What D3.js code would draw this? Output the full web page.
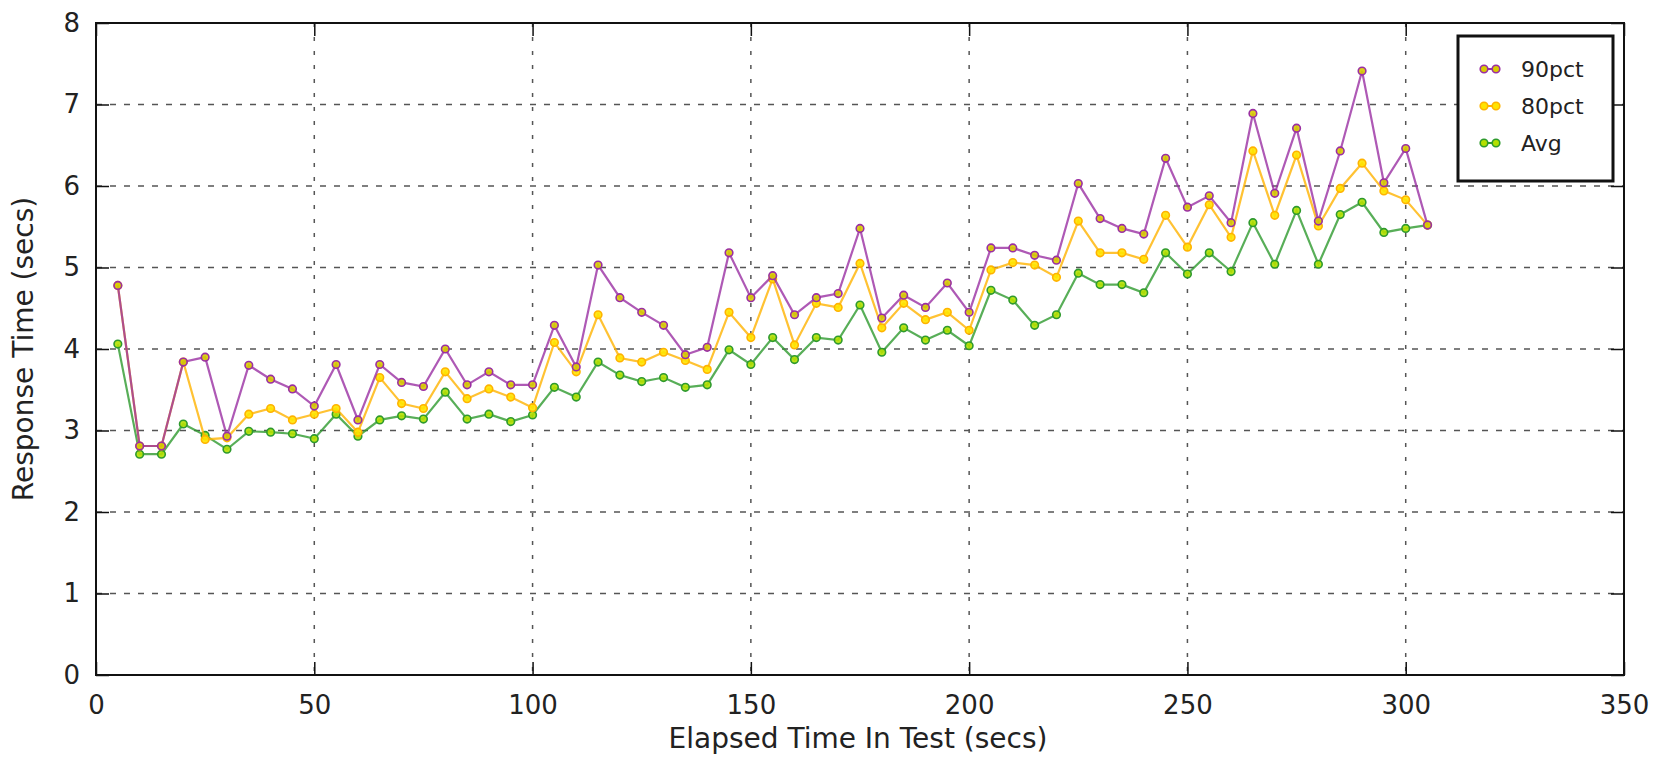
<!DOCTYPE html>
<html>
<head>
<meta charset="utf-8">
<script src="https://d3js.org/d3.v7.min.js"></script>
<style>
  body { margin: 0; background: #fff; }
  text { font-family: "DejaVu Sans", sans-serif; fill: #222; }
  .grid line { stroke: #555; stroke-width: 1.5; }
</style>
</head>
<body>
<svg width="1665" height="758"></svg>
<script>
// elapsed time (secs)
var times = [5, 10, 15, 20, 25, 30, 35, 40, 45, 50, 55, 60, 65, 70, 75, 80, 85, 90, 95, 100,
  105, 110, 115, 120, 125, 130, 135, 140, 145, 150, 155, 160, 165, 170, 175, 180, 185, 190, 195, 200,
  205, 210, 215, 220, 225, 230, 235, 240, 245, 250, 255, 260, 265, 270, 275, 280, 285, 290, 295, 300, 305];

var pct90 = [4.78, 2.81, 2.81, 3.84, 3.90, 2.93, 3.80, 3.63, 3.51, 3.30, 3.81, 3.13, 3.81, 3.59, 3.54, 4.00, 3.56, 3.72, 3.56, 3.56,
  4.29, 3.78, 5.03, 4.63, 4.45, 4.29, 3.93, 4.02, 5.18, 4.63, 4.90, 4.42, 4.63, 4.68, 5.48, 4.38, 4.66, 4.51, 4.81, 4.45,
  5.24, 5.24, 5.15, 5.09, 6.03, 5.60, 5.48, 5.41, 6.34, 5.74, 5.88, 5.55, 6.89, 5.91, 6.71, 5.57, 6.43, 7.41, 6.04, 6.46, 5.52];

var pct80 = [4.78, 2.81, 2.81, 3.84, 2.89, 2.91, 3.20, 3.27, 3.13, 3.20, 3.27, 2.98, 3.65, 3.33, 3.27, 3.72, 3.39, 3.51, 3.41, 3.28,
  4.08, 3.72, 4.42, 3.89, 3.84, 3.96, 3.86, 3.75, 4.45, 4.14, 4.86, 4.05, 4.56, 4.51, 5.05, 4.26, 4.56, 4.36, 4.45, 4.23,
  4.97, 5.06, 5.03, 4.88, 5.57, 5.18, 5.18, 5.10, 5.64, 5.25, 5.77, 5.37, 6.43, 5.64, 6.38, 5.51, 5.97, 6.28, 5.94, 5.83, 5.52];

var avg = [4.06, 2.71, 2.71, 3.08, 2.94, 2.77, 2.99, 2.98, 2.96, 2.90, 3.20, 2.93, 3.13, 3.18, 3.14, 3.47, 3.14, 3.20, 3.11, 3.19,
  3.53, 3.41, 3.84, 3.68, 3.60, 3.65, 3.53, 3.56, 3.99, 3.81, 4.14, 3.87, 4.14, 4.11, 4.54, 3.96, 4.26, 4.11, 4.23, 4.04,
  4.72, 4.60, 4.29, 4.42, 4.93, 4.79, 4.79, 4.69, 5.18, 4.92, 5.18, 4.95, 5.55, 5.04, 5.70, 5.04, 5.65, 5.80, 5.43, 5.48, 5.52];

var xTicks = [0, 50, 100, 150, 200, 250, 300, 350];
var yTicks = [0, 1, 2, 3, 4, 5, 6, 7, 8];

var seriesNames = ["90pct", "80pct", "Avg"];
var seriesData = [pct90, pct80, avg];
var lineColors = ["#9a2fa3", "#ffb300", "#2e9a2e"];
var markFill = ["#d8cc00", "#ffe400", "#b4e000"];

var svg = d3.select("svg"),
    margin = {top: 23, right: 41, bottom: 83, left: 96},
    width = +svg.attr("width") - margin.left - margin.right,
    height = +svg.attr("height") - margin.top - margin.bottom,
    g = svg.append("g").attr("transform", "translate(" + margin.left + "," + margin.top + ")");

var x = d3.scaleLinear().domain([0, 350]).range([0, width]);
var y = d3.scaleLinear().domain([0, 8]).range([height, 0]);

// grid lines
var grid = g.append("g").attr("class", "grid");
grid.selectAll(".gx")
  .data(xTicks.slice(1, -1))
  .enter().append("line")
    .attr("x1", function(d) { return x(d); })
    .attr("x2", function(d) { return x(d); })
    .attr("y1", 0).attr("y2", height)
    .attr("stroke-dasharray", "4,10");
grid.selectAll(".gy")
  .data(yTicks.slice(1, -1))
  .enter().append("line")
    .attr("y1", function(d) { return y(d); })
    .attr("y2", function(d) { return y(d); })
    .attr("x1", 0).attr("x2", width)
    .attr("stroke-dasharray", "6,8");

// axes, ticks inward on all four sides
function styleAxis(sel) {
  sel.select(".domain").remove();
  sel.selectAll(".tick line").attr("stroke", "#111").attr("stroke-width", 1.5);
  sel.selectAll(".tick text").style("font-size", "26px").attr("fill", "#222");
}

g.append("g")
    .attr("transform", "translate(0," + height + ")")
    .call(d3.axisBottom(x).tickValues(xTicks).tickSizeInner(-13).tickPadding(16))
    .call(styleAxis)
    .selectAll(".tick text").attr("dy", "0.88em");

g.append("g")
    .call(d3.axisTop(x).tickValues(xTicks).tickSizeInner(-13).tickFormat(""))
    .call(styleAxis);

g.append("g")
    .call(d3.axisLeft(y).tickValues(yTicks).tickSizeInner(-13).tickPadding(16))
    .call(styleAxis);

g.append("g")
    .attr("transform", "translate(" + width + ",0)")
    .call(d3.axisRight(y).tickValues(yTicks).tickSizeInner(-13).tickFormat(""))
    .call(styleAxis);

// lines and markers (avg drawn first, 90pct on top)
var line = d3.line()
    .x(function(d, i) { return x(times[i]); })
    .y(function(d) { return y(d); });

for (var s = seriesData.length - 1; s >= 0; s--) {
  g.append("path")
      .datum(seriesData[s])
      .attr("fill", "none")
      .attr("stroke", lineColors[s])
      .attr("stroke-width", 2.2)
      .attr("stroke-opacity", 0.8)
      .attr("d", line);

  g.selectAll(".pt" + s)
    .data(seriesData[s])
    .enter().append("circle")
      .attr("cx", function(d, i) { return x(times[i]); })
      .attr("cy", function(d) { return y(d); })
      .attr("r", 3.8)
      .attr("fill", markFill[s])
      .attr("stroke", lineColors[s])
      .attr("stroke-width", 1.6)
      .attr("fill-opacity", 0.9);
}

// frame
g.append("rect")
    .attr("width", width).attr("height", height)
    .attr("fill", "none").attr("stroke", "#111").attr("stroke-width", 2);

// axis labels
svg.append("text")
    .attr("x", margin.left + width / 2 - 2)
    .attr("y", 748)
    .attr("text-anchor", "middle")
    .style("font-size", "28px")
    .text("Elapsed Time In Test (secs)");

svg.append("text")
    .attr("transform", "translate(33," + (margin.top + height / 2) + ") rotate(-90)")
    .attr("text-anchor", "middle")
    .style("font-size", "28px")
    .text("Response Time (secs)");

// legend
var lg = svg.append("g").attr("transform", "translate(1458,36)");
lg.append("rect")
    .attr("width", 155).attr("height", 145)
    .attr("fill", "#fff").attr("stroke", "#111").attr("stroke-width", 3);

var item = lg.selectAll(".item")
  .data(seriesNames)
  .enter().append("g")
    .attr("transform", function(d, i) { return "translate(0," + (33 + i * 37) + ")"; });

item.append("line")
    .attr("x1", 26).attr("x2", 38)
    .attr("stroke", function(d, i) { return lineColors[i]; })
    .attr("stroke-width", 2);
item.selectAll("circle")
  .data(function(d, i) { return [i, i]; })
  .enter().append("circle")
    .attr("cx", function(d, j) { return 26 + j * 12; })
    .attr("r", 3.8)
    .attr("fill", function(d) { return markFill[d]; })
    .attr("stroke", function(d) { return lineColors[d]; })
    .attr("stroke-width", 1.6);
item.append("text")
    .attr("x", 63)
    .attr("dy", "0.35em")
    .style("font-size", "22px")
    .text(function(d) { return d; });
</script>
</body>
</html>
